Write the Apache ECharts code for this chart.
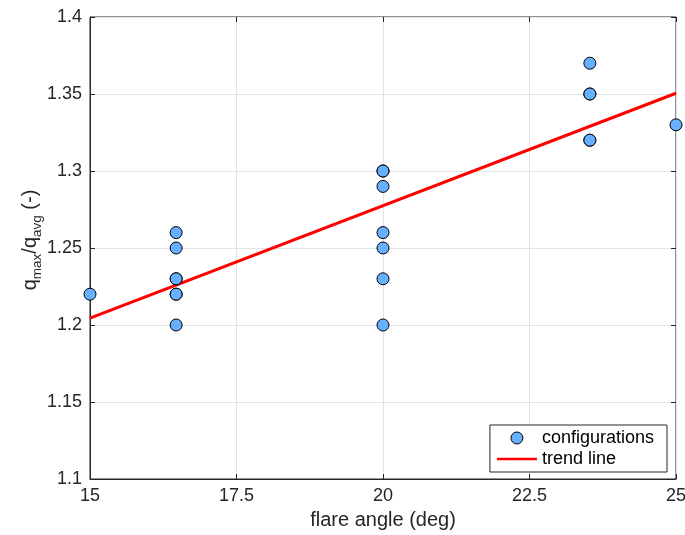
<!DOCTYPE html>
<html><head><meta charset="utf-8">
<script src="https://cdn.jsdelivr.net/npm/echarts@6/dist/echarts.min.js"></script>
<style>html,body{margin:0;padding:0;background:#fff}#c{width:685px;height:535px}</style>
</head><body><div id="c"></div>
<script>
var angleX = [15, 16.47, 16.47, 16.47, 16.47, 16.47, 16.47, 16.47, 20, 20, 20, 20, 20, 20, 20, 23.53, 23.53, 23.53, 23.53, 23.53, 25];
var ratioY = [1.22, 1.26, 1.25, 1.23, 1.23, 1.22, 1.22, 1.20, 1.30, 1.30, 1.29, 1.26, 1.25, 1.23, 1.20, 1.37, 1.35, 1.35, 1.32, 1.32, 1.33];
var trendX = [15, 25];
var trendY = [1.2045, 1.3505];
var xTicks = [15, 17.5, 20, 22.5, 25];
var yTicks = [1.1, 1.15, 1.2, 1.25, 1.3, 1.35, 1.4];

var pts = angleX.map(function(x, i){ return [x, ratioY[i]]; });
var trend = trendX.map(function(x, i){ return [x, trendY[i]]; });
var font = 'Liberation Sans, Arial, sans-serif';
var axColor = '#262626';

var chart = echarts.init(document.getElementById('c'), null, {renderer: 'canvas'});
chart.setOption({
  animation: false,
  backgroundColor: '#fff',
  grid: {left: 90, right: 9, top: 17, bottom: 56, show: true, borderColor: axColor, borderWidth: 1,
    containLabel: false, outerBoundsMode: 'none'},
  xAxis: [{
    type: 'value', min: 15, max: 25, interval: 2.5,
    name: 'flare angle (deg)', nameLocation: 'middle', nameGap: 31,
    nameTextStyle: {fontFamily: font, fontSize: 20, color: axColor},
    axisLine: {show: true, lineStyle: {color: axColor}},
    axisTick: {show: true, inside: true, length: 5, lineStyle: {color: axColor}},
    axisLabel: {fontFamily: font, fontSize: 18, color: axColor, margin: 8, hideOverlap: false,
      formatter: function(v){ return xTicks.indexOf(v) >= 0 ? String(v) : ''; }},
    splitLine: {show: true, lineStyle: {color: '#e3e3e3'}}
  }, {
    type: 'value', min: 15, max: 25, interval: 2.5, position: 'top',
    axisLine: {show: false}, axisLabel: {show: false}, splitLine: {show: false},
    axisTick: {show: true, inside: true, length: 5, lineStyle: {color: axColor}}
  }],
  yAxis: [{
    type: 'value', min: 1.1, max: 1.4, interval: 0.05,
    axisLine: {show: true, lineStyle: {color: axColor}},
    axisTick: {show: true, inside: true, length: 5, lineStyle: {color: axColor}},
    axisLabel: {fontFamily: font, fontSize: 18, color: axColor, margin: 8, hideOverlap: false,
      formatter: function(v){ var r = Math.round(v*100)/100; return yTicks.indexOf(r) >= 0 ? String(r) : ''; }},
    splitLine: {show: true, lineStyle: {color: '#e3e3e3'}}
  }, {
    type: 'value', min: 1.1, max: 1.4, interval: 0.05, position: 'right',
    axisLine: {show: false}, axisLabel: {show: false}, splitLine: {show: false},
    axisTick: {show: true, inside: true, length: 5, lineStyle: {color: axColor}}
  }],
  graphic: [{
    type: 'text', x: 30, y: 240, rotation: Math.PI / 2,
    style: {
      text: '{m|q}{s|max}{m|/q}{s|avg}{m| (-)}',
      align: 'center', verticalAlign: 'middle',
      rich: {
        m: {fontFamily: font, fontSize: 20, fill: axColor, color: axColor, lineHeight: 28, verticalAlign: 'middle'},
        s: {fontFamily: font, fontSize: 13.5, fill: axColor, color: axColor, lineHeight: 28, verticalAlign: 'bottom', padding: [8, 0, 0, 0]}
      }
    }
  }],
  legend: {
    orient: 'vertical', right: 18, bottom: 63,
    backgroundColor: '#fff', borderColor: axColor, borderWidth: 1, borderRadius: 0,
    padding: [4, 13, 4, 7], itemGap: 3, itemWidth: 40, itemHeight: 12,
    textStyle: {fontFamily: font, fontSize: 18, color: '#000'},
    data: [
      {name: 'configurations', icon: 'circle', itemStyle: {color: '#66b0ff', borderColor: '#000', borderWidth: 1}},
      {name: 'trend line', icon: 'path://M0,0 L40,0 L40,2.5 L0,2.5 Z', itemStyle: {color: '#ff0000', borderWidth: 0}}
    ]
  },
  series: [{
    name: 'trend line', type: 'line', data: trend, symbol: 'none', showSymbol: false,
    lineStyle: {color: '#ff0000', width: 3}, itemStyle: {color: '#ff0000'}, z: 2
  }, {
    name: 'configurations', type: 'scatter', data: pts, symbol: 'circle', symbolSize: 12,
    itemStyle: {color: '#66b0ff', borderColor: '#000', borderWidth: 1, opacity: 1}, z: 3
  }]
});
</script></body></html>
